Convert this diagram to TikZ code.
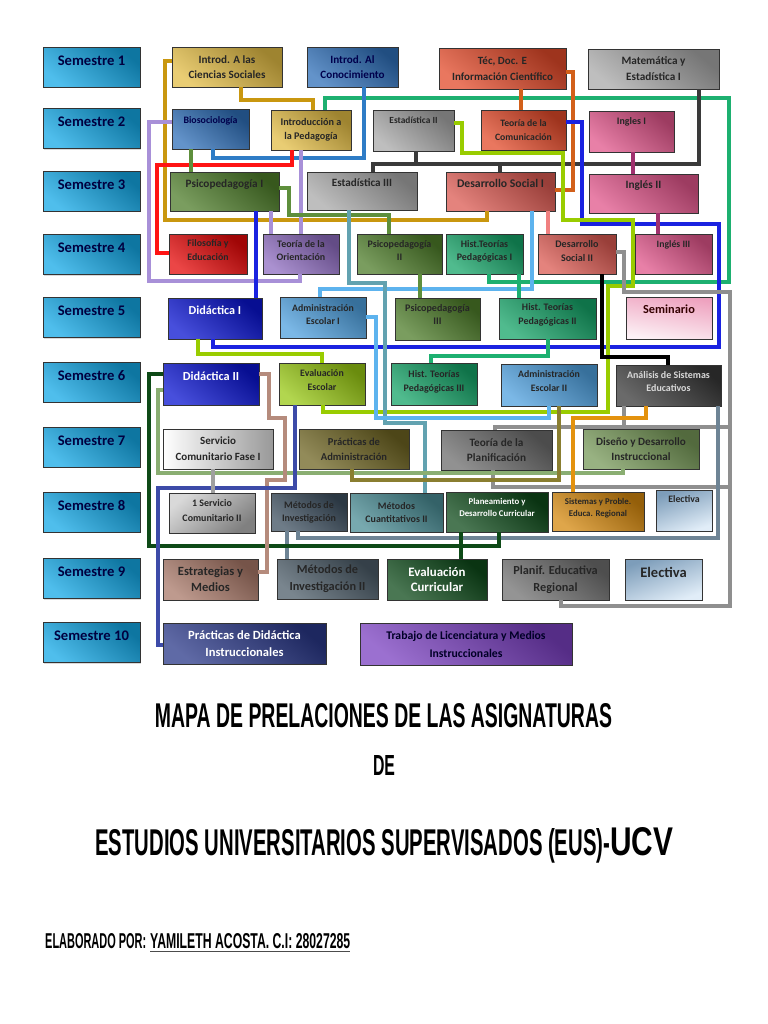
\documentclass[tikz,border=0pt]{standalone}
\usepackage{fontspec}
\setmainfont{Carlito}
\newfontfamily\titlefont{Liberation Sans}
\usetikzlibrary{shadows}

\definecolor{semc}{HTML}{14A8E6}
\definecolor{goldc}{HTML}{E2BC45}
\definecolor{bluec}{HTML}{2F6FB8}
\definecolor{tomato}{HTML}{E24A2A}
\definecolor{grayc}{HTML}{A8A8A8}
\definecolor{pinkc}{HTML}{E0558A}
\definecolor{psic}{HTML}{4E7D2A}
\definecolor{dsc}{HTML}{DB5A52}
\definecolor{redc}{HTML}{E40808}
\definecolor{lilac}{HTML}{8E6CC0}
\definecolor{htpc}{HTML}{16A468}
\definecolor{didc}{HTML}{0A14D0}
\definecolor{aec}{HTML}{4FA0DE}
\definecolor{evec}{HTML}{98C814}
\definecolor{asec}{HTML}{383838}
\definecolor{pdac}{HTML}{6E6422}
\definecolor{tdpc}{HTML}{6C6C6C}
\definecolor{ddic}{HTML}{769858}
\definecolor{mdic}{HTML}{3E5060}
\definecolor{mcc}{HTML}{4A8C94}
\definecolor{pdcc}{HTML}{0E4A1A}
\definecolor{spec}{HTML}{D4880E}
\definecolor{elec}{HTML}{9CC4E8}
\definecolor{eymc}{HTML}{A87868}
\definecolor{mdiic}{HTML}{4C5C68}
\definecolor{perc}{HTML}{707070}
\definecolor{pdic}{HTML}{2A3888}
\definecolor{tlmc}{HTML}{7A40C0}

\definecolor{lgold}{HTML}{C9970F}
\definecolor{lblue}{HTML}{2E7CC6}
\definecolor{lred}{HTML}{FF1414}
\definecolor{llav}{HTML}{A890D8}
\definecolor{lgreen}{HTML}{1DB070}
\definecolor{lpsi}{HTML}{5E8F3C}
\definecolor{lbright}{HTML}{1A22E0}
\definecolor{ldark}{HTML}{3A3A3A}
\definecolor{lrust}{HTML}{D2601A}
\definecolor{lyg}{HTML}{99CC00}
\definecolor{lpink}{HTML}{F08080}
\definecolor{lsky}{HTML}{5DB3EE}
\definecolor{lplum}{HTML}{A0306E}
\definecolor{lteal}{HTML}{62A2B0}
\definecolor{lgray}{HTML}{8F8F8F}
\definecolor{lslate}{HTML}{6E8495}
\definecolor{ldgreen}{HTML}{0E4A17}
\definecolor{lsage}{HTML}{8AAE72}
\definecolor{lbrown}{HTML}{B58B7C}
\definecolor{lnavy}{HTML}{3D4BA8}
\definecolor{lsilver}{HTML}{A0A0A0}
\definecolor{lorange}{HTML}{E3920E}
\definecolor{lolive}{HTML}{8A7E30}

\tikzset{
  sz/.style 2 args={minimum width=#1*0.03cm, minimum height=#2*0.03cm},
  fs/.style 2 args={font=\fontsize{#1}{#2}\selectfont\bfseries},
  raise/.style={text depth=#1},
  cbox/.style={draw=black!80, line width=0.7pt, inner sep=1pt, align=center, text=black!85,
    drop shadow={shadow xshift=1pt, shadow yshift=-1pt, opacity=0.3},
    top color=#1!70!black, bottom color=#1!75!white, shading angle=-40},
  sbox/.style={cbox=semc, sz={97}{40}, fs={12.5}{15}, raise=11pt, text=black!75!blue},
  ln/.style={line width=3.8pt},
}

\begin{document}
\begin{tikzpicture}[x=0.03cm,y=-0.03cm]
\useasboundingbox (0,0) rectangle (768,1024);

\foreach \n/\y in {1/67,2/128.5,3/191,4/254.5,5/317.5,6/382,7/447,8/512,9/578.5,10/642.5}
  \node[sbox] (s\n) at (91.5,\y) {Semestre \n};

\node[cbox=goldc, sz={110}{40}, fs={9.5}{12.75}] (ics) at (227,67) {Introd. A las\\Ciencias Sociales};
\node[cbox=bluec, sz={91}{40}, fs={9.5}{12.75}, text=black!70!blue] (iac) at (352.5,67) {Introd. Al\\Conocimiento};
\node[cbox=tomato, sz={127}{41}, fs={9.4}{13.6}] (tde) at (502.5,68.5) {Téc, Doc. E\\Información Científico};
\node[cbox=grayc, sz={131}{40}, fs={9.6}{13.6}] (mei) at (653.5,69) {Matemática y\\Estadística I};

\node[cbox=bluec, sz={77}{40}, fs={8.4}{10}, raise=15pt, text=black!70!blue] (bio) at (210.5,129) {Biosociología};
\node[cbox=goldc, sz={80}{40}, fs={8.7}{11.9}] (itp) at (311,130) {Introducción a\\la Pedagogía};
\node[cbox=grayc, sz={81}{41}, fs={8}{10}, raise=17pt] (eii) at (413.5,130.5) {Estadística II};
\node[cbox=tomato, sz={85}{40}, fs={8.3}{11.9}] (tdc) at (523.5,130) {Teoría de la\\Comunicación};
\node[cbox=pinkc, sz={85}{41}, fs={8.5}{10}, raise=18pt] (ing1) at (631.5,131.5) {Ingles I};

\node[cbox=psic, sz={109}{39}, fs={9.6}{12}, raise=13pt] (psi1) at (224.5,191.5) {Psicopedagogía I};
\node[cbox=grayc, sz={110}{38}, fs={9.5}{12}, raise=14pt] (eiii) at (362,191) {Estadística III};
\node[cbox=dsc, sz={109}{39}, fs={10}{12}, raise=14.5pt] (dsi) at (500.5,191.5) {Desarrollo Social I};
\node[cbox=pinkc, sz={109}{39}, fs={9.6}{12}, raise=14.5pt] (ing2) at (643.5,193.5) {Inglés II};

\node[cbox=redc, sz={78}{40}, fs={8.4}{11.9}, raise=7pt] (fye) at (208,254) {Filosofía y\\Educación};
\node[cbox=lilac, sz={76}{40}, fs={8.5}{11}, raise=6pt] (tdo) at (301,254) {Teoría de la\\Orientación};
\node[cbox=psic, sz={85}{40}, fs={8.5}{11.9}, raise=6pt] (psi2) at (399.5,254) {Psicopedagogía\\II};
\node[cbox=htpc, sz={77}{40}, fs={8.5}{11}, raise=6pt] (htp1) at (484.5,254) {Hist.Teorías\\Pedagógicas I};
\node[cbox=dsc, sz={78}{40}, fs={8.6}{11.9}, raise=5pt] (dsii) at (577,254) {Desarrollo\\Social II};
\node[cbox=pinkc, sz={77}{40}, fs={8.3}{10}, raise=17pt] (ing3) at (673.5,254) {Inglés III};

\node[cbox=didc, sz={94}{41}, fs={10.4}{12}, raise=14.5pt, text=white] (did1) at (215,318.5) {Didáctica I};
\node[cbox=aec, sz={86}{41}, fs={8.4}{11}, raise=5pt] (aei) at (323,317.5) {Administración\\Escolar I};
\node[cbox=psic, sz={85}{42}, fs={8.6}{11}, raise=7pt] (psi3) at (437.5,319) {Psicopedagogía\\III};
\node[cbox=htpc, sz={97}{41}, fs={8.5}{11.9}, raise=8pt] (htp2) at (547.5,318.5) {Hist. Teorías\\Pedagógicas II};
\node[cbox=pinkc, sz={86}{42}, fs={10.5}{12}, raise=15pt, top color=pinkc!55!white, bottom color=white!92!pinkc, shading angle=-10, text=black!80!red] (sem) at (669,318) {Seminario};

\node[cbox=didc, sz={96}{42}, fs={10.5}{12}, raise=14pt, text=white] (did2) at (211,384) {Didáctica II};
\node[cbox=evec, sz={86}{42}, fs={8.4}{11.9}, raise=7pt] (eve) at (322,384) {Evaluación\\Escolar};
\node[cbox=htpc, sz={86}{42}, fs={8.5}{11.9}, raise=5pt] (htp3) at (434,384) {Hist. Teorías\\Pedagógicas III};
\node[cbox=aec, sz={96}{42}, fs={8.4}{11.9}, raise=7pt] (aeii) at (549,385) {Administración\\Escolar II};
\node[cbox=asec, sz={105}{41}, fs={8.5}{11}, raise=7pt, text=white!85!black] (ase) at (668.5,385.5) {Análisis de Sistemas\\Educativos};

\node[cbox=grayc, sz={110}{40}, fs={9.4}{13.6}, left color=white, right color=black!40] (scf1) at (218,449) {Servicio\\Comunitario Fase I};
\node[cbox=pdac, sz={110}{40}, fs={9}{12.75}] (pda) at (354,449) {Prácticas de\\Administración};
\node[cbox=tdpc, sz={111}{40}, fs={9.6}{12.75}] (tdp) at (496.5,450) {Teoría de la\\Planificación};
\node[cbox=ddic, sz={116}{40}, fs={9.5}{12.75}] (ddi) at (641,449) {Diseño y Desarrollo\\Instruccional};

\node[cbox=grayc, sz={86}{40}, fs={8.5}{12.75}, raise=5pt, top color=black!15, bottom color=black!50, shading angle=40] (sc2) at (212,513) {1 Servicio\\Comunitario II};
\node[cbox=mdic, sz={76}{38}, fs={8.5}{11}] (mdi) at (309,512) {Métodos de\\Investigación};
\node[cbox=mcc, sz={93}{39}, fs={8.5}{11}] (mc2) at (396.5,512.5) {Métodos\\Cuantitativos II};
\node[cbox=pdcc, sz={102}{40}, fs={7.5}{10.2}, raise=8pt, text=white] (pdc) at (497,512) {Planeamiento y\\Desarrollo Curricular};
\node[cbox=spec, sz={92}{39}, fs={7.5}{11}, raise=7pt] (spe) at (598,511.5) {Sistemas y Proble.\\Educa. Regional};
\node[cbox=elec, sz={56}{41}, fs={8.4}{10}, raise=20pt, top color=elec!80!black, bottom color=elec!30!white, shading angle=20] (ele8) at (684,510.5) {Electiva};

\node[cbox=eymc, sz={95}{41}, fs={10.7}{13.6}] (eym) at (210.5,579.5) {Estrategias y\\Medios};
\node[cbox=mdiic, sz={101}{40}, fs={10.5}{14.5}] (mdi2) at (327.5,579) {Métodos de\\Investigación II};
\node[cbox=pdcc, sz={100}{41}, fs={11}{13.6}, text=white] (evc) at (437,579.5) {Evaluación\\Curricular};
\node[cbox=perc, sz={107}{41}, fs={10.5}{14.5}] (per) at (555.5,579.5) {Planif. Educativa\\Regional};
\node[cbox=elec, sz={77}{41}, fs={12.4}{14}, raise=13pt, top color=elec!80!black, bottom color=elec!30!white, shading angle=20] (ele9) at (663.5,579.5) {Electiva};

\node[cbox=pdic, sz={163}{41}, fs={10.7}{14.5}, text=white] (pdi) at (244.5,643.5) {Prácticas de Didáctica\\Instruccionales};
\node[cbox=tlmc, sz={212}{42}, fs={10}{15.3}, text=black!85!blue] (tlm) at (466,644) {Trabajo de Licenciatura y Medios\\Instruccionales};

\draw[ln, lgold] (ics.west |- 0,61) -| (165,220) -| (dsi.south -| 487,0);
\draw[ln, lgold] (ics.south -| 241,0) |- (313,100) -- (itp.north -| 313,0);
\draw[ln, lgreen] (itp.north -| 325,0) |- (729,98) |- (489,282) -- (htp1.south -| 489,0);
\draw[ln, lblue] (iac.south -| 364,0) |- (213,158) -- (bio.south -| 213,0);
\draw[ln, lred] (itp.south -| 292,0) |- (157,165) |- (fye.west |- 0,253);
\draw[ln, llav] (bio.west |- 0,122) -| (149,281) -| (tdo.south -| 300,0);
\draw[ln, llav] (itp.south -| 301,0) -- (tdo.north -| 301,0);
\draw[ln, llav] (psi1.south -| 271,0) -- (tdo.north -| 271,0);
\draw[ln, lpsi] (bio.south -| 191,0) -- (psi1.north -| 191,0);
\draw[ln, lpsi] (psi1.east |- 0,188) -| (289,215) -| (psi2.north -| 389,0);
\draw[ln, lbright] (psi1.south -| 256,0) -- (did1.north -| 256,0);
\draw[ln, ldark] (mei.south -| 699,0) |- (373,164) -- (eiii.north -| 373,0);
\draw[ln, ldark] (eii.south -| 416,0) -- (416,164) (500,164) -- (dsi.north -| 500,0);
\draw[ln, lrust] (tde.south -| 521,0) -- (tdc.north -| 521,0);
\draw[ln, lrust] (tde.east |- 0,72) -| (573,190) -- (dsi.east |- 0,190);
\draw[ln, lbright] (tdc.east |- 0,122) -| (582,224) -| (719,347) -| (did1.south -| 213,0);
\draw[ln, lyg] (eii.east |- 0,123) -| (462,153) -| (563,220) -| (633,286) -| (608,412) -| (eve.south -| 323,0);
\draw[ln, lyg] (did1.south -| 198,0) |- (322,354) -- (eve.north -| 322,0);
\draw[ln, lpink] (dsi.south -| 548,0) -- (dsii.north -| 548,0);
\draw[ln, lsky] (dsi.south -| 532,0) |- (320,289) -- (aei.north -| 320,0);
\draw[ln, lplum] (ing1.south -| 633,0) -- (ing2.north -| 633,0);
\draw[ln, lplum] (ing2.south -| 658,0) -- (ing3.north -| 658,0);
\draw[ln, lteal] (eiii.south -| 349,0) |- (385,283) |- (425,423) -- (mc2.north -| 425,0);
\draw[ln, lsky] (aei.east |- 0,317) -| (376,418) -| (aeii.south -| 549,0);
\draw[ln, lpsi] (psi2.south -| 420,0) -- (psi3.north -| 420,0);
\draw[ln, lgreen] (htp1.south -| 519,0) -- (htp2.north -| 519,0);
\draw[ln, lgreen] (htp2.south -| 548,0) |- (431,356) -- (htp3.north -| 431,0);
\draw[ln, black] (dsii.south -| 602,0) |- (668,357) -- (ase.north -| 668,0);
\draw[ln, lgray] (dsii.east |- 0,252) -| (624,292) -| (730,606) -| (per.south -| 561,0);
\draw[ln, lgray] (ase.south -| 624,0) |- (495,427) -- (tdp.north -| 495,0);
\draw[ln, lgray] (624,427) -- (730,427);
\draw[ln, lgray] (tdp.south -| 493,0) |- (730,487);
\draw[ln, lslate] (mdi.south -| 287,0) -- (mdi2.north -| 287,0);
\draw[ln, lslate] (ase.south -| 718,0) |- (298,538) -- (mdi.south -| 298,0);
\draw[ln, ldgreen] (did2.west |- 0,374) -| (149,546) -| (pdc.south -| 499,0);
\draw[ln, ldgreen] (pdc.south -| 461,0) -- (evc.north -| 461,0);
\draw[ln, lsage] (did2.west |- 0,390) -| (158,473) -| (ddi.south -| 623,0);
\draw[ln, lolive] (aeii.south -| 559,0) |- (352,480) -- (pda.south -| 352,0);
\draw[ln, lbrown] (did2.east |- 0,374) -| (269,418) -| (285,480) -| (267,572) -- (eym.east |- 0,572);
\draw[ln, lnavy] (eve.south -| 295,0) |- (158,488) |- (pdi.west |- 0,645);
\draw[ln, lsilver] (scf1.south -| 213,0) -- (sc2.north -| 213,0);
\draw[ln, lorange] (ase.south -| 646,0) |- (573,418) -- (spe.north -| 573,0);

\node[anchor=base, inner sep=0pt] (t1) at (383.5,727) {\resizebox{13.71cm}{0.72cm}{\titlefont\bfseries MAPA DE PRELACIONES DE LAS ASIGNATURAS}};
\node[anchor=base, inner sep=0pt] (t2) at (384,775) {\resizebox{0.66cm}{0.6cm}{\titlefont\bfseries DE}};
\node[anchor=base west, inner sep=0pt] (t3) at (95,855) {\resizebox{15.45cm}{0.81cm}{\titlefont\bfseries ESTUDIOS UNIVERSITARIOS SUPERVISADOS (EUS)-}\resizebox{1.89cm}{0.84cm}{\titlefont\bfseries UCV}};
\node[anchor=base west, inner sep=0pt] (t4) at (45,948) {\resizebox{3.03cm}{0.45cm}{\titlefont\bfseries ELABORADO POR:}};
\node[anchor=base west, inner sep=0pt] (t5) at (150,948) {\resizebox{6cm}{0.45cm}{\titlefont\bfseries YAMILETH ACOSTA. C.I: 28027285}};
\draw[black!70, line width=0.7pt] ([yshift=-2.5pt]t5.base west) -- ([yshift=-2.5pt]t5.base east);
\end{tikzpicture}
\end{document}
